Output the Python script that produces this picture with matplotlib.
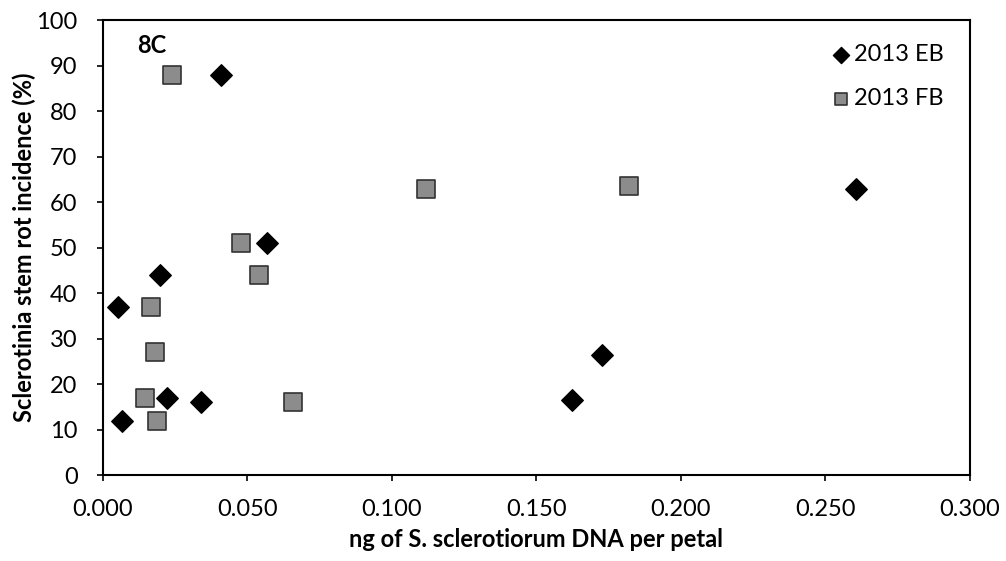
import numpy as np
import matplotlib.pyplot as plt

# Data
eb_x = [0.0052, 0.0066, 0.0198, 0.0222, 0.0340, 0.0410, 0.0570, 0.1625, 0.1726, 0.2605]
eb_y = [37, 12, 44, 17, 16, 88, 51, 16.5, 26.5, 63]
fb_x = [0.0240, 0.0167, 0.0180, 0.0146, 0.0188, 0.0480, 0.0540, 0.0660, 0.1120, 0.1820]
fb_y = [88, 37, 27, 17, 12, 51, 44, 16, 63, 63.5]

x_ticks = np.arange(0, 0.301, 0.05)
y_ticks = np.arange(0, 101, 10)

plt.rcParams['font.family'] = ['Lato', 'DejaVu Sans']

fig = plt.figure(figsize=(10.06, 5.61), dpi=100)
ax = fig.add_axes([0.102, 0.153, 0.862, 0.811])

ax.scatter(eb_x, eb_y, marker='D', s=120, color='black', label='2013 EB', zorder=3)
ax.scatter(fb_x, fb_y, marker='s', s=150, facecolor='#8c8c8c', edgecolor='#333333',
           linewidth=1.2, label='2013 FB', zorder=3)

ax.set_xlim(0, 0.3)
ax.set_ylim(0, 100)
ax.set_xticks(x_ticks)
ax.set_xticklabels(['%.3f' % v for v in x_ticks])
ax.set_yticks(y_ticks)
ax.tick_params(direction='out', length=4, width=1.2, labelsize=17)
ax.tick_params(axis='x', pad=13)
ax.tick_params(axis='y', pad=14)
for s in ax.spines.values():
    s.set_linewidth(1.5)

ax.set_xlabel('ng of S. sclerotiorum DNA per petal', fontsize=17, fontweight='bold', labelpad=6)
ax.set_ylabel('Sclerotinia stem rot incidence (%)', fontsize=17, fontweight='bold', labelpad=0)

ax.text(0.0118, 94.5, '8C', fontsize=17, fontweight='bold', ha='left', va='center')

ax.legend(loc='upper right', frameon=False, fontsize=17, handlelength=0.8,
          handletextpad=0.15, labelspacing=1.0, markerscale=0.75,
          bbox_to_anchor=(0.995, 0.995))

fig.savefig('out.png', dpi=100)
